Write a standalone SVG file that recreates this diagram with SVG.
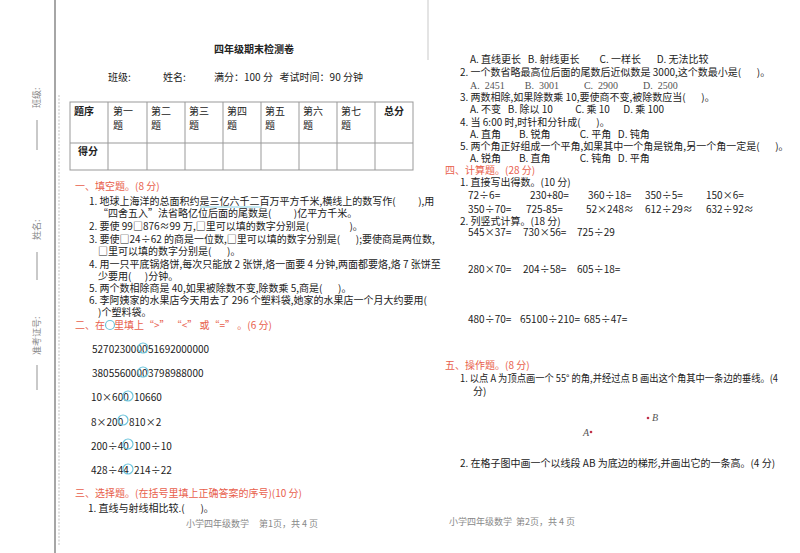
<svg xmlns="http://www.w3.org/2000/svg" width="800" height="553" viewBox="0 0 800 553">
<style>
text{font-family:"Noto Sans CJK SC","Liberation Sans",sans-serif;fill:#222;font-size:10px;white-space:pre}
.s{font-family:"Liberation Serif","Noto Sans CJK SC",serif;fill:#555}
.r{fill:#e8604c}
.b{font-weight:bold}
.g{fill:#888;font-size:9px}
.c{fill:none;stroke:#6cc4dc;stroke-width:1.2}
.t{stroke:#999;stroke-width:1;fill:none}
</style>
<rect width="800" height="553" fill="#fff"/>
<line x1="55" y1="0" x2="55" y2="553" stroke="#888" stroke-width="1.5"/>
<line x1="59" y1="95" x2="59" y2="545" stroke="#999" stroke-width="0.6" stroke-dasharray="2,1.5"/>
<line x1="428" y1="0" x2="428" y2="60" stroke="#bbb" stroke-width="0.8"/>
<text transform="translate(40,108) rotate(-90)" class="g">班级:</text>
<text transform="translate(40,240) rotate(-90)" class="g">姓名:</text>
<text transform="translate(40,355) rotate(-90)" class="g">准考证号:</text>
<g stroke="#666" stroke-width="0.7">
<line x1="37" y1="150" x2="37" y2="120"/>
<line x1="37" y1="280" x2="37" y2="252"/>
<line x1="37" y1="390" x2="37" y2="365"/>
</g>
<text x="214" y="53" class="b" font-size="11">四年级期末检测卷</text>
<text x="108" y="81" font-size="11">班级:</text>
<text x="163" y="81" font-size="11">姓名:</text>
<text x="214" y="81" font-size="11">满分：100 分   考试时间：90 分钟</text>
<g id="table">
<rect x="70" y="102" width="343" height="68" class="t"/>
<line x1="70" y1="143" x2="413" y2="143" class="t"/>
<g class="t"><line x1="108" y1="102" x2="108" y2="170"/><line x1="147" y1="102" x2="147" y2="170"/><line x1="185" y1="102" x2="185" y2="170"/><line x1="223" y1="102" x2="223" y2="170"/><line x1="261" y1="102" x2="261" y2="170"/><line x1="299" y1="102" x2="299" y2="170"/><line x1="337" y1="102" x2="337" y2="170"/><line x1="375" y1="102" x2="375" y2="170"/></g>
<text x="74" y="115" class="b">题序</text>
<text x="113" y="115">第一</text><text x="113" y="129">题</text>
<text x="151" y="115">第二</text><text x="151" y="129">题</text>
<text x="189" y="115">第三</text><text x="189" y="129">题</text>
<text x="227" y="115">第四</text><text x="227" y="129">题</text>
<text x="265" y="115">第五</text><text x="265" y="129">题</text>
<text x="303" y="115">第六</text><text x="303" y="129">题</text>
<text x="341" y="115">第七</text><text x="341" y="129">题</text>
<text x="384" y="115" class="b">总分</text>
<text x="78" y="155" class="b">得分</text>
</g>
<text x="75" y="190" class="r" font-size="9.5">一、填空题。(8 分)</text>
<text x="89" y="205">1. 地球上海洋的总面积约是三亿六千二百万平方千米,横线上的数写作(          ),用</text>
<line x1="200" y1="207" x2="262" y2="207" stroke="#6cc4dc" stroke-width="0.8"/>
<text x="98" y="217">“四舍五入”法省略亿位后面的尾数是(          )亿平方千米。</text>
<text x="89" y="230">2. 要使 99□876≈99 万,□里可以填的数字分别是(                  )。</text>
<text x="89" y="243">3. 要使□24÷62 的商是一位数,□里可以填的数字分别是(       );要使商是两位数,</text>
<text x="98" y="255">□里可以填的数字分别是(       )。</text>
<text x="89" y="268">4. 用一只平底锅烙饼,每次只能放 2 张饼,烙一面要 4 分钟,两面都要烙,烙 7 张饼至</text>
<text x="98" y="280">少要用(      )分钟。</text>
<text x="89" y="292">5. 两个数相除商是 40,如果被除数不变,除数乘 5,商是(       )。</text>
<text x="89" y="304">6. 李阿姨家的水果店今天用去了 296 个塑料袋,她家的水果店一个月大约要用(</text>
<text x="98" y="316">)个塑料袋。</text>
<text x="75" y="329" class="r" font-size="9.5">二、在    里填上“&gt;” “&lt;” 或“=” 。(6 分)</text>
<circle cx="110" cy="325" r="4.5" class="c"/>
<g class="s" font-size="8.6">
<text x="92" y="353">5270230000</text><circle cx="143" cy="348" r="5" class="c"/><text x="148" y="353">51692000000</text>
<text x="92" y="377">3805560000</text><circle cx="143" cy="372" r="5" class="c"/><text x="148" y="377">3798988000</text>
<text x="91" y="401">10×600</text><circle cx="128" cy="396" r="5" class="c"/><text x="134" y="401">10660</text>
<text x="91" y="426">8×200</text><circle cx="123" cy="420" r="5" class="c"/><text x="129" y="426">810×2</text>
<text x="91" y="450">200÷40</text><circle cx="128" cy="444" r="5" class="c"/><text x="134" y="450">100÷10</text>
<text x="91" y="474">428÷44</text><circle cx="128" cy="469" r="5" class="c"/><text x="134" y="474">214÷22</text>
</g>
<text x="75" y="497" class="r" font-size="9.5">三、选择题。(在括号里填上正确答案的序号)(10 分)</text>
<text x="88" y="512">1. 直线与射线相比较.(       )。</text>
<text x="186" y="527" class="g" font-size="7">小学四年级数学     第1页，共 4 页</text>
<text x="470" y="63">A. 直线更长   B. 射线更长         C. 一样长       D. 无法比较</text>
<text x="460" y="76">2. 一个数省略最高位后面的尾数后近似数是 3000,这个数最小是(       )。</text>
<text x="470" y="89" class="s" font-size="9">A.  2451        B.  3001          C.  2900          D.  2500</text>
<text x="460" y="101">3. 两数相除,如果除数乘 10,要使商不变,被除数应当(       )。</text>
<text x="470" y="113">A. 不变   B. 除以 10          C. 乘 10      D. 乘 100</text>
<text x="460" y="126">4. 当 6:00 时,时针和分针成(       )。</text>
<text x="470" y="138">A. 直角        B. 锐角             C. 平角   D. 钝角</text>
<text x="460" y="150">5. 两个角正好组成一个平角,如果其中一个角是锐角,另一个角一定是(       )。</text>
<text x="470" y="162">A. 锐角        B. 直角             C. 钝角   D. 平角</text>
<text x="445" y="174" class="r" font-size="9.5">四、计算题。(28 分)</text>
<text x="460" y="186">1. 直接写出得数。(10 分)</text>
<text x="468" y="199">72÷6=</text><text x="530" y="199">230+80=</text><text x="588" y="199">360÷18=</text><text x="645" y="199">350÷5=</text><text x="706" y="199">150×6=</text>
<text x="468" y="213">350÷70=</text><text x="526" y="213">725-85=</text><text x="586" y="213">52×248≈</text><text x="645" y="213">612÷29≈</text><text x="706" y="213">632÷92≈</text>
<text x="460" y="225">2. 列竖式计算。(18 分)</text>
<g class="s" font-size="8"><text x="468" y="236">545×37=</text><text x="523" y="236">730×56=</text><text x="577" y="236">725÷29</text>
<text x="468" y="273">280×70=</text><text x="523" y="273">204÷58=</text><text x="577" y="273">605÷18=</text>
<text x="468" y="323">480÷70=</text><text x="520" y="323">65100÷210=</text><text x="584" y="323">685÷47=</text></g>
<text x="445" y="369" class="r" font-size="9.5">五、操作题。(8 分)</text>
<text x="460" y="382" textLength="318" lengthAdjust="spacingAndGlyphs">1. 以点 A 为顶点画一个 55° 的角,并经过点 B 画出这个角其中一条边的垂线。(4</text>
<text x="473" y="395">分)</text>
<circle cx="648" cy="418" r="1.3" fill="#c0304a"/><text x="652" y="421" class="s" font-size="6" font-style="italic">B</text>
<circle cx="591" cy="432" r="1.3" fill="#c0304a"/><text x="583" y="436" class="s" font-size="6" font-style="italic">A</text>
<text x="460" y="467">2. 在格子图中画一个以线段 AB 为底边的梯形,并画出它的一条高。(4 分)</text>
<text x="449" y="525" class="g" font-size="7">小学四年级数学  第2页，共 4 页</text>
</svg>
